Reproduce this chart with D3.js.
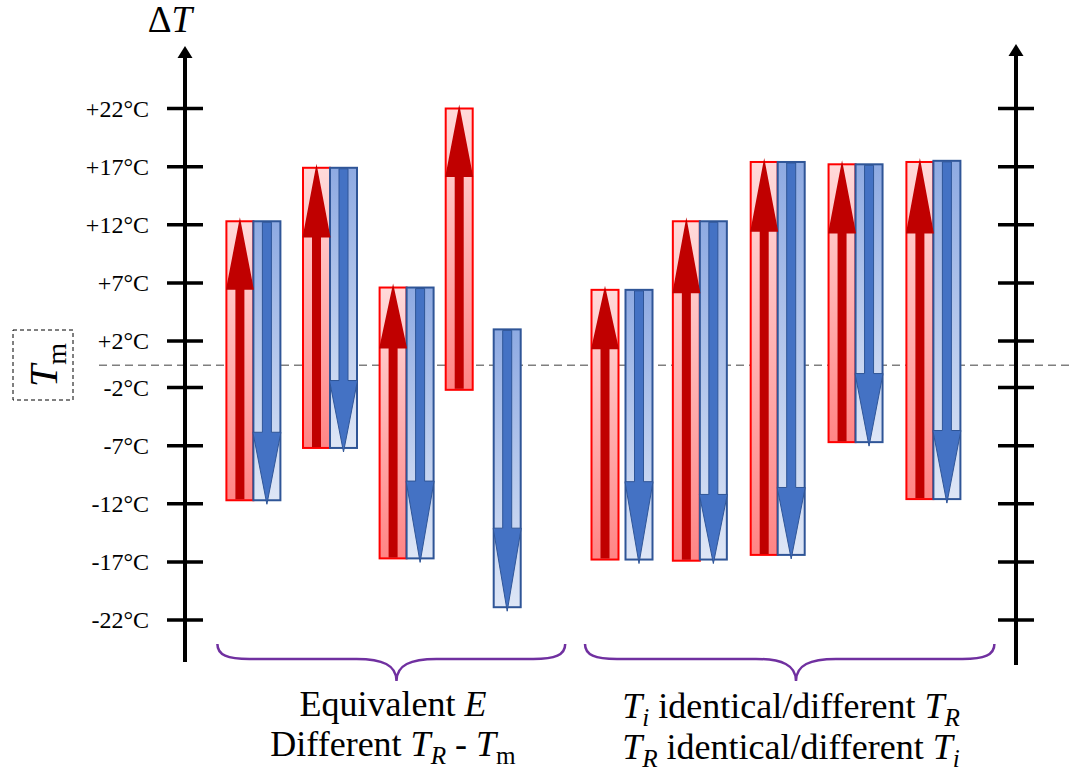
<!DOCTYPE html>
<html>
<head>
<meta charset="utf-8">
<script src="https://cdn.jsdelivr.net/npm/d3@7"></script>
<style>
    body { margin: 0; background: #ffffff; }
    svg { display: block; font-family: "Liberation Serif", "Times New Roman", serif; }
    text { white-space: pre; }
</style>
</head>
<body>
<svg id="drawing_area" width="1070" height="771"></svg>
<script>
// Axis ticks
var tickValues = [22, 17, 12, 7, 2, -2, -7, -12, -17, -22]
var tickLabels = ["+22°C", "+17°C", "+12°C", "+7°C", "+2°C", "-2°C", "-7°C", "-12°C", "-17°C", "-22°C"]

// Cases (first group: 4, second group: 5)
var groupA = ["A1", "A2", "A3", "A4"]
var groupB = ["B1", "B2", "B3", "B4", "B5"]
var cases = groupA.concat(groupB)

// Red bars (heating): bottom, top, start of the arrow head
var redBottom = [-11.7, -7.2, -16.7, -2.2, -16.8, -16.9, -16.4, -6.7, -11.6]
var redTop    = [12.3, 16.9, 6.6, 22.0, 6.4, 12.3, 17.4, 17.2, 17.4]
var redHead   = [6.4, 10.9, 1.35, 16.1, 1.3, 6.1, 11.4, 11.25, 11.25]

// Blue bars (cooling): top, bottom, start of the arrow head
var blueTop    = [12.3, 16.9, 6.6, 3.0, 6.4, 12.3, 17.4, 17.2, 17.5]
var blueBottom = [-11.7, -7.2, -16.7, -20.9, -16.8, -16.8, -16.4, -6.7, -11.6]
var blueHead   = [-5.85, -1.4, -10.05, -14.1, -10.1, -11.2, -10.6, -0.8, -5.7]

// Texts, as [text, style] pieces ("i" italic, "sub" subscript)
var axisTitle = [["Δ", ""], ["T", "i"]]
var refLabel = [["T", "i"], ["m", "sub"]]
var groupALines = [
    [["Equivalent ", ""], ["E", "i"]],
    [["Different ", ""], ["T", "i"], ["R", "i sub"], [" - ", ""], ["T", "i"], ["m", "sub"]]
]
var groupBLines = [
    [["T", "i"], ["i", "i sub"], [" identical/different ", ""], ["T", "i"], ["R", "i sub"]],
    [["T", "i"], ["R", "i sub"], [" identical/different ", ""], ["T", "i"], ["i", "i sub"]]
]

// Layout
var barW = 27
var splitGap = {A4: 21, B1: 7}

var svg = d3.select("#drawing_area")
var y = d3.scaleLinear().domain([-22, 22]).range([620, 108.5])
var xA = d3.scalePoint().domain(groupA).range([253.4, 483.2])
var xB = d3.scalePoint().domain(groupB).range([622, 933.4])

function xCase(c) {
    return groupA.includes(c) ? xA(c) : xB(c)
}

// Gradients
var defs = svg.append("defs")
function gradient(id, top, bottom) {
    var g = defs.append("linearGradient").attr("id", id)
        .attr("x1", 0).attr("y1", 0).attr("x2", 0).attr("y2", 1)
    g.append("stop").attr("offset", "0%").attr("stop-color", top)
    g.append("stop").attr("offset", "100%").attr("stop-color", bottom)
}
gradient("redFill", "#ffdada", "#ff8585")
gradient("blueFill", "#8eaae2", "#dee6f6")

function richText(parent, segments, size) {
    var t = parent.append("text").attr("font-size", size).attr("text-anchor", "middle").attr("fill", "#000")
    var shift = 0
    segments.forEach(function(s) {
        var sp = t.append("tspan").text(s[0])
        var st = s[1].split(" ")
        if (st.includes("i")) sp.attr("font-style", "italic")
        var want = st.includes("sub") ? size * 0.22 : 0
        if (st.includes("sub")) sp.attr("font-size", size * 0.7)
        if (want != shift) sp.attr("dy", want - shift)
        shift = want
    })
    return t
}

// Reference line (T_m)
svg.append("line")
    .attr("x1", 99).attr("x2", 1070)
    .attr("y1", y(0) + 1).attr("y2", y(0) + 1)
    .attr("stroke", "#7f7f7f").attr("stroke-width", 1.5)
    .attr("stroke-dasharray", "8,5")

// Axes
function axis(x, yBottom, tipY, withLabels) {
    svg.append("line")
        .attr("x1", x).attr("x2", x).attr("y1", yBottom).attr("y2", tipY + 10)
        .attr("stroke", "#000").attr("stroke-width", 4)
    svg.append("path")
        .attr("d", "M" + (x - 7.5) + "," + (tipY + 12) + " L" + x + "," + tipY + " L" + (x + 7.5) + "," + (tipY + 12) + " Z")
        .attr("fill", "#000")
    svg.selectAll(null).data(tickValues).enter().append("line")
        .attr("x1", x - 18).attr("x2", x + 18)
        .attr("y1", function(d) { return y(d) }).attr("y2", function(d) { return y(d) })
        .attr("stroke", "#000").attr("stroke-width", 3.5)
    if (withLabels) {
        svg.selectAll(null).data(tickValues).enter().append("text")
            .attr("x", x - 36)
            .attr("y", function(d) { return y(d) })
            .attr("dy", "0.34em")
            .attr("text-anchor", "end")
            .attr("font-size", 24)
            .attr("fill", "#000")
            .text(function(d, i) { return tickLabels[i] })
    }
}
axis(185, 662, 46, true)
axis(1016, 665, 44, false)

richText(svg.append("g").attr("transform", "translate(170,32)"), axisTitle, 37)

// T_m box
svg.append("rect")
    .attr("x", 13).attr("y", 330).attr("width", 60).attr("height", 70)
    .attr("fill", "none").attr("stroke", "#000").attr("stroke-width", 1)
    .attr("stroke-dasharray", "4,3")
richText(svg.append("g").attr("transform", "translate(57,365) rotate(-90)"), refLabel, 40)

// Bars
var pairs = cases.map(function(c, i) {
    var gap = splitGap[c] || 0
    var cx = xCase(c)
    return {
        redX: cx - gap / 2 - barW, blueX: cx + gap / 2,
        rb: redBottom[i], rt: redTop[i], rh: redHead[i],
        bt: blueTop[i], bb: blueBottom[i], bh: blueHead[i]
    }
})

svg.selectAll(null).data(pairs).enter().append("rect")
    .attr("x", function(d) { return d.redX })
    .attr("y", function(d) { return y(d.rt) })
    .attr("width", barW)
    .attr("height", function(d) { return y(d.rb) - y(d.rt) })
    .attr("fill", "url(#redFill)").attr("stroke", "#ff0000").attr("stroke-width", 2)

svg.selectAll(null).data(pairs).enter().append("rect")
    .attr("x", function(d) { return d.blueX })
    .attr("y", function(d) { return y(d.bt) })
    .attr("width", barW)
    .attr("height", function(d) { return y(d.bb) - y(d.bt) })
    .attr("fill", "url(#blueFill)").attr("stroke", "#2f5597").attr("stroke-width", 2)

function arrowPath(cx, from, head, tip, shaft, width) {
    return "M" + (cx - shaft / 2) + "," + from +
        " L" + (cx - shaft / 2) + "," + head +
        " L" + (cx - width / 2) + "," + head +
        " L" + cx + "," + tip +
        " L" + (cx + width / 2) + "," + head +
        " L" + (cx + shaft / 2) + "," + head +
        " L" + (cx + shaft / 2) + "," + from + " Z"
}

svg.selectAll(null).data(pairs).enter().append("path")
    .attr("d", function(d) {
        return arrowPath(d.redX + barW / 2, y(d.rb) - 1, y(d.rh), y(d.rt) - 4, 9, barW + 1)
    })
    .attr("fill", "#c00000")

svg.selectAll(null).data(pairs).enter().append("path")
    .attr("d", function(d) {
        return arrowPath(d.blueX + barW / 2, y(d.bt) + 1, y(d.bh), y(d.bb) + 4, 9, barW + 1)
    })
    .attr("fill", "#4472c4").attr("stroke", "#2f5597").attr("stroke-width", 1)

// Braces and group labels
function brace(x0, x1, tip) {
    var top = 644, mid = 659, bottom = 681
    var d = "M" + x0 + "," + top +
        " C" + x0 + "," + (mid - 4) + " " + (x0 + 10) + "," + mid + " " + (x0 + 32) + "," + mid +
        " L" + (tip - 40) + "," + mid +
        " C" + (tip - 14) + "," + mid + " " + tip + "," + (mid + 6) + " " + tip + "," + bottom +
        " C" + tip + "," + (mid + 6) + " " + (tip + 14) + "," + mid + " " + (tip + 40) + "," + mid +
        " L" + (x1 - 32) + "," + mid +
        " C" + (x1 - 10) + "," + mid + " " + x1 + "," + (mid - 4) + " " + x1 + "," + top
    svg.append("path").attr("d", d)
        .attr("fill", "none").attr("stroke", "#7030a0").attr("stroke-width", 2.5)
}
var rA = xA.range(), rB = xB.range()
brace(rA[0] - 36, rA[1] + 82, 396.5)
brace(rB[0] - 37, rB[1] + 61, 796)

groupALines.forEach(function(line, i) {
    richText(svg.append("g").attr("transform", "translate(393," + (716 + i * 40) + ")"), line, 36)
})
groupBLines.forEach(function(line, i) {
    richText(svg.append("g").attr("transform", "translate(791," + (718 + i * 41) + ")"), line, 36)
})
</script>
</body>
</html>
